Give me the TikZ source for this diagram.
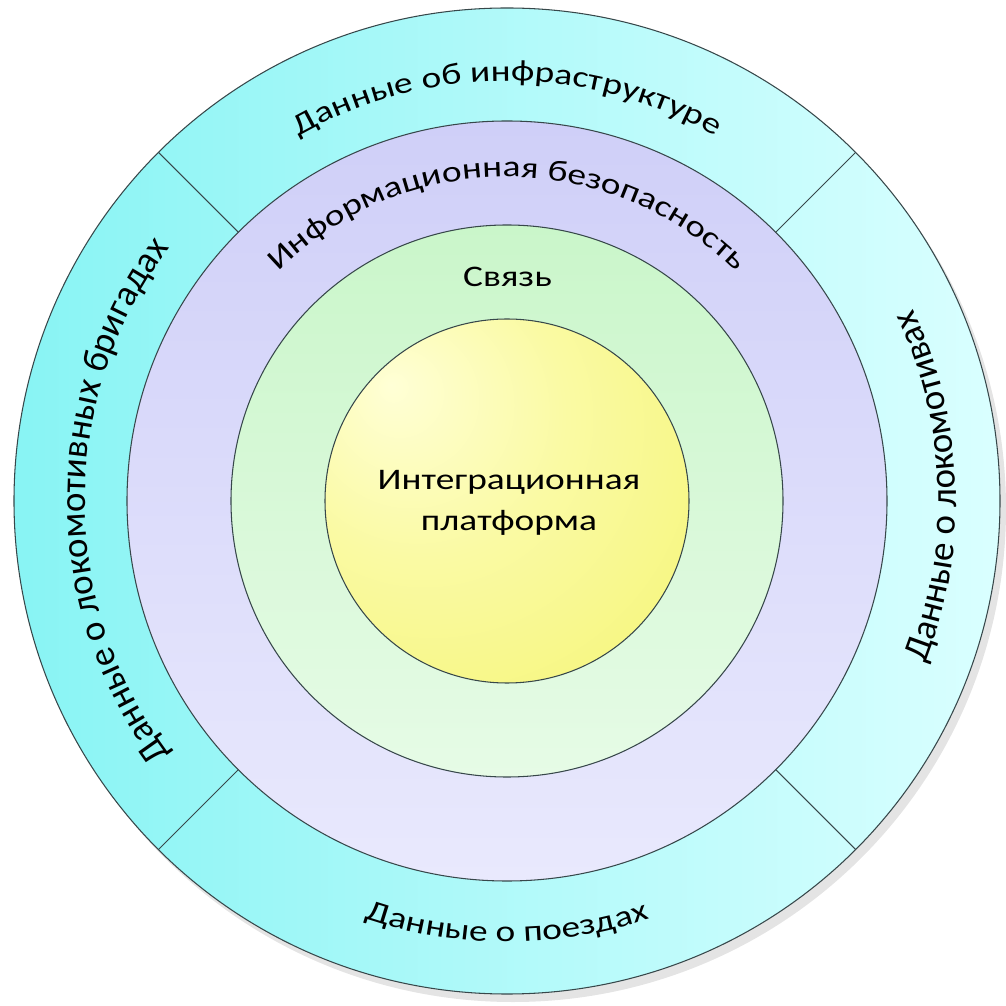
\documentclass[tikz,border=0pt]{standalone}
\usepackage{fontspec}
\setmainfont{Carlito}
\newfontfamily\wideface{Carlito}[FakeStretch=1.25]
\usetikzlibrary{decorations.text}
\newcommand\flatfont{\wideface\fontsize{17}{23.5}\selectfont}
\newcommand\sidefont{\fontsize{21}{25}\selectfont}
\definecolor{ringline}{HTML}{37474A}
\definecolor{shadowgray}{HTML}{E4E4E4}
\definecolor{dataL}{HTML}{88F4F4}
\definecolor{dataR}{HTML}{DAFFFF}
\definecolor{secT}{HTML}{CFCFF8}
\definecolor{secB}{HTML}{E9E9FD}
\definecolor{linkT}{HTML}{CAF6CA}
\definecolor{linkB}{HTML}{E6FBE6}
\definecolor{coreA}{HTML}{FFFFD6}
\definecolor{coreB}{HTML}{F4F466}
\pgfdeclareradialshading{coreglow}{\pgfpoint{-16bp}{16bp}}{%
  color(0bp)=(coreA); color(20bp)=(coreA!55!coreB); color(55bp)=(coreB); color(80bp)=(coreB)}
\tikzset{
  ring/.style={draw=ringline, line width=0.6pt},
  arctext/.style={decorate, decoration={text along path, text align=center, text={#1}}}
}
\begin{document}
\begin{tikzpicture}[x=0.02cm, y=0.02cm]
  \useasboundingbox (-507,-505) rectangle (499,501);
  \fill[shadowgray] (6,-8) circle[radius=493];
  \shadedraw[ring, left color=dataL, right color=dataR] (0,0) circle[radius=493];
  \shadedraw[ring, top color=secT, bottom color=secB] (0,0) circle[radius=380];
  \shadedraw[ring, top color=linkT, bottom color=linkB] (0,0) circle[radius=276];
  \shadedraw[ring, shading=coreglow] (0,0) circle[radius=182];
  \foreach \a in {45,135,225,315}
    \draw[ring] (\a:380) -- (\a:493);
  \draw
    (2,-2) node[align=center, font=\flatfont] (platform) {Интеграционная\\платформа}
    (0.5,214) node[anchor=base, font=\flatfont] (svyaz) {Связь};
  \path[arctext={|\flatfont|Данные об инфраструктуре}]
    (180:420) arc[start angle=180, end angle=0, radius=420];
  \path[arctext={|\flatfont|Информационная безопасность}]
    (180:324) arc[start angle=180, end angle=0, radius=324];
  \path[arctext={|\flatfont|Данные о поездах}]
    (180:441) arc[start angle=180, end angle=360, radius=441];
  \path[arctext={|\sidefont|Данные о локомотивных бригадах}]
    (270:422) arc[start angle=270, end angle=90, radius=422];
  \path[arctext={|\sidefont|Данные о локомотивах}]
    (-88:449) arc[start angle=-88, end angle=92, radius=449];
\end{tikzpicture}
\end{document}
